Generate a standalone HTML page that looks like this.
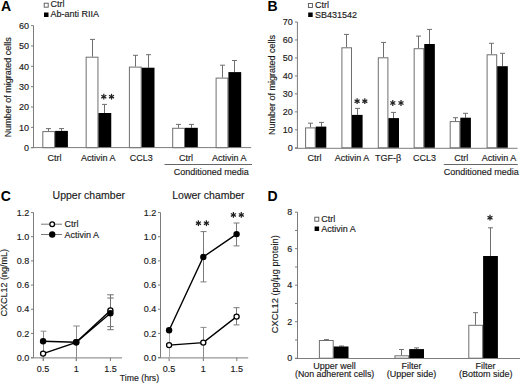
<!DOCTYPE html>
<html><head><meta charset="utf-8"><style>
html,body{margin:0;padding:0;background:#fff;}
body{width:520px;height:384px;overflow:hidden;}
svg{display:block;font-family:"Liberation Sans",sans-serif;}
</style></head><body>
<svg width="520" height="384" viewBox="0 0 520 384">
<rect width="520" height="384" fill="#fff"/>
<text x="1" y="10.8" font-size="14" text-anchor="start" font-weight="bold" fill="#000" >A</text>
<rect x="44.2" y="3.2" width="4" height="4" fill="#fff" stroke="#555" stroke-width="0.9"/>
<text x="50.6" y="7.2" font-size="9" text-anchor="start" font-weight="normal" fill="#1a1a1a" stroke="#1a1a1a" stroke-width="0.15" >Ctrl</text>
<rect x="44" y="12.5" width="4.5" height="4.5" fill="#000"/>
<text x="50.6" y="17.2" font-size="9" text-anchor="start" font-weight="normal" fill="#1a1a1a" stroke="#1a1a1a" stroke-width="0.15" >Ab-anti RIIA</text>
<line x1="33.5" y1="25.6" x2="33.5" y2="148.1" stroke="#7c7c7c" stroke-width="1"/>
<line x1="31.0" y1="147.7" x2="33.5" y2="147.7" stroke="#7c7c7c" stroke-width="1"/>
<text x="28.9" y="150.9" font-size="9" text-anchor="end" font-weight="normal" fill="#1a1a1a" stroke="#1a1a1a" stroke-width="0.15" >0</text>
<line x1="31.0" y1="127.35" x2="33.5" y2="127.35" stroke="#7c7c7c" stroke-width="1"/>
<text x="28.9" y="130.55" font-size="9" text-anchor="end" font-weight="normal" fill="#1a1a1a" stroke="#1a1a1a" stroke-width="0.15" >10</text>
<line x1="31.0" y1="107" x2="33.5" y2="107" stroke="#7c7c7c" stroke-width="1"/>
<text x="28.9" y="110.2" font-size="9" text-anchor="end" font-weight="normal" fill="#1a1a1a" stroke="#1a1a1a" stroke-width="0.15" >20</text>
<line x1="31.0" y1="86.65" x2="33.5" y2="86.65" stroke="#7c7c7c" stroke-width="1"/>
<text x="28.9" y="89.85" font-size="9" text-anchor="end" font-weight="normal" fill="#1a1a1a" stroke="#1a1a1a" stroke-width="0.15" >30</text>
<line x1="31.0" y1="66.3" x2="33.5" y2="66.3" stroke="#7c7c7c" stroke-width="1"/>
<text x="28.9" y="69.5" font-size="9" text-anchor="end" font-weight="normal" fill="#1a1a1a" stroke="#1a1a1a" stroke-width="0.15" >40</text>
<line x1="31.0" y1="45.95" x2="33.5" y2="45.95" stroke="#7c7c7c" stroke-width="1"/>
<text x="28.9" y="49.15" font-size="9" text-anchor="end" font-weight="normal" fill="#1a1a1a" stroke="#1a1a1a" stroke-width="0.15" >50</text>
<line x1="31.0" y1="25.6" x2="33.5" y2="25.6" stroke="#7c7c7c" stroke-width="1"/>
<text x="28.9" y="28.8" font-size="9" text-anchor="end" font-weight="normal" fill="#1a1a1a" stroke="#1a1a1a" stroke-width="0.15" >60</text>
<text x="0" y="0" font-size="9" text-anchor="middle" font-weight="normal" fill="#1a1a1a" stroke="#1a1a1a" stroke-width="0.15" transform="translate(10.8,87.2) rotate(-90)">Number of migrated cells</text>
<line x1="48.5" y1="128.6" x2="48.5" y2="131.1" stroke="#6e6e6e" stroke-width="1"/>
<line x1="46.0" y1="128.6" x2="51.0" y2="128.6" stroke="#6e6e6e" stroke-width="1"/>
<line x1="61.5" y1="128.6" x2="61.5" y2="130.9" stroke="#6e6e6e" stroke-width="1"/>
<line x1="59.0" y1="128.6" x2="64.0" y2="128.6" stroke="#6e6e6e" stroke-width="1"/>
<rect x="42.8" y="131.6" width="11.8" height="16.1" fill="#fff" stroke="#6f6f6f" stroke-width="1"/>
<rect x="55.1" y="130.9" width="12.8" height="16.8" fill="#000"/>
<line x1="92.5" y1="39.4" x2="92.5" y2="56.7" stroke="#6e6e6e" stroke-width="1"/>
<line x1="90.0" y1="39.4" x2="95.0" y2="39.4" stroke="#6e6e6e" stroke-width="1"/>
<line x1="104.5" y1="104.4" x2="104.5" y2="113.0" stroke="#6e6e6e" stroke-width="1"/>
<line x1="102.0" y1="104.4" x2="107.0" y2="104.4" stroke="#6e6e6e" stroke-width="1"/>
<rect x="86.15" y="57.2" width="11.8" height="90.5" fill="#fff" stroke="#6f6f6f" stroke-width="1"/>
<rect x="98.45" y="113.0" width="12.8" height="34.7" fill="#000"/>
<line x1="135.5" y1="55.3" x2="135.5" y2="66.6" stroke="#6e6e6e" stroke-width="1"/>
<line x1="133.0" y1="55.3" x2="138.0" y2="55.3" stroke="#6e6e6e" stroke-width="1"/>
<line x1="148.5" y1="54.7" x2="148.5" y2="67.7" stroke="#6e6e6e" stroke-width="1"/>
<line x1="146.0" y1="54.7" x2="151.0" y2="54.7" stroke="#6e6e6e" stroke-width="1"/>
<rect x="129.4" y="67.1" width="11.8" height="80.6" fill="#fff" stroke="#6f6f6f" stroke-width="1"/>
<rect x="141.7" y="67.7" width="12.8" height="80" fill="#000"/>
<line x1="178.5" y1="124.4" x2="178.5" y2="127.8" stroke="#6e6e6e" stroke-width="1"/>
<line x1="176.0" y1="124.4" x2="181.0" y2="124.4" stroke="#6e6e6e" stroke-width="1"/>
<line x1="191.5" y1="124.4" x2="191.5" y2="127.8" stroke="#6e6e6e" stroke-width="1"/>
<line x1="189.0" y1="124.4" x2="194.0" y2="124.4" stroke="#6e6e6e" stroke-width="1"/>
<rect x="172.7" y="128.3" width="11.8" height="19.4" fill="#fff" stroke="#6f6f6f" stroke-width="1"/>
<rect x="185.0" y="127.8" width="12.8" height="19.9" fill="#000"/>
<line x1="222.5" y1="65.2" x2="222.5" y2="77.6" stroke="#6e6e6e" stroke-width="1"/>
<line x1="220.0" y1="65.2" x2="225.0" y2="65.2" stroke="#6e6e6e" stroke-width="1"/>
<line x1="234.5" y1="60.5" x2="234.5" y2="72.1" stroke="#6e6e6e" stroke-width="1"/>
<line x1="232.0" y1="60.5" x2="237.0" y2="60.5" stroke="#6e6e6e" stroke-width="1"/>
<rect x="216.1" y="78.1" width="11.8" height="69.6" fill="#fff" stroke="#6f6f6f" stroke-width="1"/>
<rect x="228.4" y="72.1" width="12.8" height="75.6" fill="#000"/>
<line x1="31.0" y1="147.6" x2="251.2" y2="147.6" stroke="#7c7c7c" stroke-width="1"/>
<line x1="103.8" y1="93.8" x2="103.8" y2="99.6" stroke="#222" stroke-width="1.25"/>
<line x1="101.29" y1="95.25" x2="106.31" y2="98.15" stroke="#222" stroke-width="1.25"/>
<line x1="106.31" y1="95.25" x2="101.29" y2="98.15" stroke="#222" stroke-width="1.25"/>
<line x1="111.5" y1="93.8" x2="111.5" y2="99.6" stroke="#222" stroke-width="1.25"/>
<line x1="108.99" y1="95.25" x2="114.01" y2="98.15" stroke="#222" stroke-width="1.25"/>
<line x1="114.01" y1="95.25" x2="108.99" y2="98.15" stroke="#222" stroke-width="1.25"/>
<text x="54.5" y="161.2" font-size="9" text-anchor="middle" font-weight="normal" fill="#1a1a1a" stroke="#1a1a1a" stroke-width="0.15" >Ctrl</text>
<text x="98.3" y="161.2" font-size="9" text-anchor="middle" font-weight="normal" fill="#1a1a1a" stroke="#1a1a1a" stroke-width="0.15" >Activin A</text>
<text x="141.2" y="161.2" font-size="9" text-anchor="middle" font-weight="normal" fill="#1a1a1a" stroke="#1a1a1a" stroke-width="0.15" >CCL3</text>
<text x="186" y="161.2" font-size="9" text-anchor="middle" font-weight="normal" fill="#1a1a1a" stroke="#1a1a1a" stroke-width="0.15" >Ctrl</text>
<text x="229.3" y="161.2" font-size="9" text-anchor="middle" font-weight="normal" fill="#1a1a1a" stroke="#1a1a1a" stroke-width="0.15" >Activin A</text>
<line x1="164.5" y1="164.5" x2="252" y2="164.5" stroke="#666" stroke-width="1"/>
<text x="211.2" y="174.5" font-size="9" text-anchor="middle" font-weight="normal" fill="#1a1a1a" stroke="#1a1a1a" stroke-width="0.15" >Conditioned media</text>
<text x="267.5" y="10.8" font-size="14" text-anchor="start" font-weight="bold" fill="#000" >B</text>
<rect x="308.4" y="3.5" width="4" height="4" fill="#fff" stroke="#555" stroke-width="0.9"/>
<text x="315" y="7.6" font-size="9" text-anchor="start" font-weight="normal" fill="#1a1a1a" stroke="#1a1a1a" stroke-width="0.15" >Ctrl</text>
<rect x="308.2" y="12.5" width="4.5" height="4.5" fill="#000"/>
<text x="315" y="17.6" font-size="9" text-anchor="start" font-weight="normal" fill="#1a1a1a" stroke="#1a1a1a" stroke-width="0.15" >SB431542</text>
<line x1="297.4" y1="22.01" x2="297.4" y2="148.4" stroke="#7c7c7c" stroke-width="1"/>
<line x1="294.9" y1="147.8" x2="297.4" y2="147.8" stroke="#7c7c7c" stroke-width="1"/>
<text x="292.7" y="151.0" font-size="9" text-anchor="end" font-weight="normal" fill="#1a1a1a" stroke="#1a1a1a" stroke-width="0.15" >0</text>
<line x1="294.9" y1="129.83" x2="297.4" y2="129.83" stroke="#7c7c7c" stroke-width="1"/>
<text x="292.7" y="133.03" font-size="9" text-anchor="end" font-weight="normal" fill="#1a1a1a" stroke="#1a1a1a" stroke-width="0.15" >10</text>
<line x1="294.9" y1="111.86" x2="297.4" y2="111.86" stroke="#7c7c7c" stroke-width="1"/>
<text x="292.7" y="115.06" font-size="9" text-anchor="end" font-weight="normal" fill="#1a1a1a" stroke="#1a1a1a" stroke-width="0.15" >20</text>
<line x1="294.9" y1="93.89" x2="297.4" y2="93.89" stroke="#7c7c7c" stroke-width="1"/>
<text x="292.7" y="97.09" font-size="9" text-anchor="end" font-weight="normal" fill="#1a1a1a" stroke="#1a1a1a" stroke-width="0.15" >30</text>
<line x1="294.9" y1="75.92" x2="297.4" y2="75.92" stroke="#7c7c7c" stroke-width="1"/>
<text x="292.7" y="79.12" font-size="9" text-anchor="end" font-weight="normal" fill="#1a1a1a" stroke="#1a1a1a" stroke-width="0.15" >40</text>
<line x1="294.9" y1="57.95" x2="297.4" y2="57.95" stroke="#7c7c7c" stroke-width="1"/>
<text x="292.7" y="61.15" font-size="9" text-anchor="end" font-weight="normal" fill="#1a1a1a" stroke="#1a1a1a" stroke-width="0.15" >50</text>
<line x1="294.9" y1="39.98" x2="297.4" y2="39.98" stroke="#7c7c7c" stroke-width="1"/>
<text x="292.7" y="43.18" font-size="9" text-anchor="end" font-weight="normal" fill="#1a1a1a" stroke="#1a1a1a" stroke-width="0.15" >60</text>
<line x1="294.9" y1="22.01" x2="297.4" y2="22.01" stroke="#7c7c7c" stroke-width="1"/>
<text x="292.7" y="25.21" font-size="9" text-anchor="end" font-weight="normal" fill="#1a1a1a" stroke="#1a1a1a" stroke-width="0.15" >70</text>
<text x="0" y="0" font-size="9" text-anchor="middle" font-weight="normal" fill="#1a1a1a" stroke="#1a1a1a" stroke-width="0.15" transform="translate(274.6,84.9) rotate(-90)">Number of migrated cells</text>
<line x1="310.5" y1="123.2" x2="310.5" y2="127.4" stroke="#6e6e6e" stroke-width="1"/>
<line x1="308.0" y1="123.2" x2="313.0" y2="123.2" stroke="#6e6e6e" stroke-width="1"/>
<line x1="321.5" y1="122.4" x2="321.5" y2="126.6" stroke="#6e6e6e" stroke-width="1"/>
<line x1="319.0" y1="122.4" x2="324.0" y2="122.4" stroke="#6e6e6e" stroke-width="1"/>
<rect x="305.6" y="127.9" width="9.6" height="19.9" fill="#fff" stroke="#6f6f6f" stroke-width="1"/>
<rect x="315.7" y="126.6" width="10.6" height="21.2" fill="#000"/>
<line x1="346.5" y1="34.4" x2="346.5" y2="47.3" stroke="#6e6e6e" stroke-width="1"/>
<line x1="344.0" y1="34.4" x2="349.0" y2="34.4" stroke="#6e6e6e" stroke-width="1"/>
<line x1="357.5" y1="108.4" x2="357.5" y2="114.9" stroke="#6e6e6e" stroke-width="1"/>
<line x1="355.0" y1="108.4" x2="360.0" y2="108.4" stroke="#6e6e6e" stroke-width="1"/>
<rect x="341.9" y="47.8" width="9.6" height="100" fill="#fff" stroke="#6f6f6f" stroke-width="1"/>
<rect x="352.0" y="114.9" width="10.6" height="32.9" fill="#000"/>
<line x1="383.5" y1="42.4" x2="383.5" y2="57.3" stroke="#6e6e6e" stroke-width="1"/>
<line x1="381.0" y1="42.4" x2="386.0" y2="42.4" stroke="#6e6e6e" stroke-width="1"/>
<line x1="393.5" y1="112.4" x2="393.5" y2="118.1" stroke="#6e6e6e" stroke-width="1"/>
<line x1="391.0" y1="112.4" x2="396.0" y2="112.4" stroke="#6e6e6e" stroke-width="1"/>
<rect x="378.3" y="57.8" width="9.6" height="90" fill="#fff" stroke="#6f6f6f" stroke-width="1"/>
<rect x="388.4" y="118.1" width="10.6" height="29.7" fill="#000"/>
<line x1="418.5" y1="36.1" x2="418.5" y2="48.2" stroke="#6e6e6e" stroke-width="1"/>
<line x1="416.0" y1="36.1" x2="421.0" y2="36.1" stroke="#6e6e6e" stroke-width="1"/>
<line x1="429.5" y1="29.4" x2="429.5" y2="44.0" stroke="#6e6e6e" stroke-width="1"/>
<line x1="427.0" y1="29.4" x2="432.0" y2="29.4" stroke="#6e6e6e" stroke-width="1"/>
<rect x="414.15" y="48.7" width="9.6" height="99.1" fill="#fff" stroke="#6f6f6f" stroke-width="1"/>
<rect x="424.25" y="44.0" width="10.6" height="103.8" fill="#000"/>
<line x1="455.5" y1="117.7" x2="455.5" y2="121.1" stroke="#6e6e6e" stroke-width="1"/>
<line x1="453.0" y1="117.7" x2="458.0" y2="117.7" stroke="#6e6e6e" stroke-width="1"/>
<line x1="465.5" y1="113.3" x2="465.5" y2="117.7" stroke="#6e6e6e" stroke-width="1"/>
<line x1="463.0" y1="113.3" x2="468.0" y2="113.3" stroke="#6e6e6e" stroke-width="1"/>
<rect x="450.2" y="121.6" width="9.6" height="26.2" fill="#fff" stroke="#6f6f6f" stroke-width="1"/>
<rect x="460.3" y="117.7" width="10.6" height="30.1" fill="#000"/>
<line x1="491.5" y1="43.3" x2="491.5" y2="54.3" stroke="#6e6e6e" stroke-width="1"/>
<line x1="489.0" y1="43.3" x2="494.0" y2="43.3" stroke="#6e6e6e" stroke-width="1"/>
<line x1="502.5" y1="53.3" x2="502.5" y2="66.2" stroke="#6e6e6e" stroke-width="1"/>
<line x1="500.0" y1="53.3" x2="505.0" y2="53.3" stroke="#6e6e6e" stroke-width="1"/>
<rect x="487.1" y="54.8" width="9.6" height="93" fill="#fff" stroke="#6f6f6f" stroke-width="1"/>
<rect x="497.2" y="66.2" width="10.6" height="81.6" fill="#000"/>
<line x1="294.9" y1="148.3" x2="517.5" y2="148.3" stroke="#7c7c7c" stroke-width="1"/>
<line x1="357.1" y1="98.3" x2="357.1" y2="104.1" stroke="#222" stroke-width="1.25"/>
<line x1="354.59" y1="99.75" x2="359.61" y2="102.65" stroke="#222" stroke-width="1.25"/>
<line x1="359.61" y1="99.75" x2="354.59" y2="102.65" stroke="#222" stroke-width="1.25"/>
<line x1="364.8" y1="98.3" x2="364.8" y2="104.1" stroke="#222" stroke-width="1.25"/>
<line x1="362.29" y1="99.75" x2="367.31" y2="102.65" stroke="#222" stroke-width="1.25"/>
<line x1="367.31" y1="99.75" x2="362.29" y2="102.65" stroke="#222" stroke-width="1.25"/>
<line x1="392.8" y1="100.1" x2="392.8" y2="105.9" stroke="#222" stroke-width="1.25"/>
<line x1="390.29" y1="101.55" x2="395.31" y2="104.45" stroke="#222" stroke-width="1.25"/>
<line x1="395.31" y1="101.55" x2="390.29" y2="104.45" stroke="#222" stroke-width="1.25"/>
<line x1="401.0" y1="100.1" x2="401.0" y2="105.9" stroke="#222" stroke-width="1.25"/>
<line x1="398.49" y1="101.55" x2="403.51" y2="104.45" stroke="#222" stroke-width="1.25"/>
<line x1="403.51" y1="101.55" x2="398.49" y2="104.45" stroke="#222" stroke-width="1.25"/>
<text x="314.6" y="161.4" font-size="9" text-anchor="middle" font-weight="normal" fill="#1a1a1a" stroke="#1a1a1a" stroke-width="0.15" >Ctrl</text>
<text x="351.9" y="161.4" font-size="9" text-anchor="middle" font-weight="normal" fill="#1a1a1a" stroke="#1a1a1a" stroke-width="0.15" >Activin A</text>
<text x="388.2" y="161.4" font-size="9" text-anchor="middle" font-weight="normal" fill="#1a1a1a" stroke="#1a1a1a" stroke-width="0.15" >TGF-β</text>
<text x="424.4" y="161.4" font-size="9" text-anchor="middle" font-weight="normal" fill="#1a1a1a" stroke="#1a1a1a" stroke-width="0.15" >CCL3</text>
<text x="461.2" y="161.4" font-size="9" text-anchor="middle" font-weight="normal" fill="#1a1a1a" stroke="#1a1a1a" stroke-width="0.15" >Ctrl</text>
<text x="499" y="161.4" font-size="9" text-anchor="middle" font-weight="normal" fill="#1a1a1a" stroke="#1a1a1a" stroke-width="0.15" >Activin A</text>
<line x1="443.8" y1="164.5" x2="517.8" y2="164.5" stroke="#666" stroke-width="1"/>
<text x="481.3" y="175" font-size="9" text-anchor="middle" font-weight="normal" fill="#1a1a1a" stroke="#1a1a1a" stroke-width="0.15" >Conditioned media</text>
<text x="0.8" y="201" font-size="14" text-anchor="start" font-weight="bold" fill="#000" >C</text>
<text x="88.8" y="199.2" font-size="10.5" text-anchor="middle" font-weight="normal" fill="#1a1a1a" stroke="#1a1a1a" stroke-width="0.15" >Upper chamber</text>
<text x="208.4" y="199.2" font-size="10.5" text-anchor="middle" font-weight="normal" fill="#1a1a1a" stroke="#1a1a1a" stroke-width="0.15" >Lower chamber</text>
<text x="0" y="0" font-size="9" text-anchor="middle" font-weight="normal" fill="#1a1a1a" stroke="#1a1a1a" stroke-width="0.15" transform="translate(7.4,282.8) rotate(-90)">CXCL12 (ng/mL)</text>
<line x1="33.5" y1="212.52" x2="33.5" y2="357.6" stroke="#7c7c7c" stroke-width="1"/>
<line x1="31.0" y1="357.6" x2="33.5" y2="357.6" stroke="#7c7c7c" stroke-width="1"/>
<text x="29.3" y="360.8" font-size="9" text-anchor="end" font-weight="normal" fill="#1a1a1a" stroke="#1a1a1a" stroke-width="0.15" >0.0</text>
<line x1="31.0" y1="333.42" x2="33.5" y2="333.42" stroke="#7c7c7c" stroke-width="1"/>
<text x="29.3" y="336.62" font-size="9" text-anchor="end" font-weight="normal" fill="#1a1a1a" stroke="#1a1a1a" stroke-width="0.15" >0.2</text>
<line x1="31.0" y1="309.24" x2="33.5" y2="309.24" stroke="#7c7c7c" stroke-width="1"/>
<text x="29.3" y="312.44" font-size="9" text-anchor="end" font-weight="normal" fill="#1a1a1a" stroke="#1a1a1a" stroke-width="0.15" >0.4</text>
<line x1="31.0" y1="285.06" x2="33.5" y2="285.06" stroke="#7c7c7c" stroke-width="1"/>
<text x="29.3" y="288.26" font-size="9" text-anchor="end" font-weight="normal" fill="#1a1a1a" stroke="#1a1a1a" stroke-width="0.15" >0.6</text>
<line x1="31.0" y1="260.88" x2="33.5" y2="260.88" stroke="#7c7c7c" stroke-width="1"/>
<text x="29.3" y="264.08" font-size="9" text-anchor="end" font-weight="normal" fill="#1a1a1a" stroke="#1a1a1a" stroke-width="0.15" >0.8</text>
<line x1="31.0" y1="236.7" x2="33.5" y2="236.7" stroke="#7c7c7c" stroke-width="1"/>
<text x="29.3" y="239.9" font-size="9" text-anchor="end" font-weight="normal" fill="#1a1a1a" stroke="#1a1a1a" stroke-width="0.15" >1.0</text>
<line x1="31.0" y1="212.52" x2="33.5" y2="212.52" stroke="#7c7c7c" stroke-width="1"/>
<text x="29.3" y="215.72" font-size="9" text-anchor="end" font-weight="normal" fill="#1a1a1a" stroke="#1a1a1a" stroke-width="0.15" >1.2</text>
<line x1="31.0" y1="357.9" x2="122" y2="357.9" stroke="#7c7c7c" stroke-width="1"/>
<line x1="43.1" y1="357.6" x2="43.1" y2="361.1" stroke="#7c7c7c" stroke-width="1"/>
<text x="43.1" y="372.3" font-size="9" text-anchor="middle" font-weight="normal" fill="#1a1a1a" stroke="#1a1a1a" stroke-width="0.15" >0.5</text>
<line x1="76.2" y1="357.6" x2="76.2" y2="361.1" stroke="#7c7c7c" stroke-width="1"/>
<text x="76.2" y="372.3" font-size="9" text-anchor="middle" font-weight="normal" fill="#1a1a1a" stroke="#1a1a1a" stroke-width="0.15" >1</text>
<line x1="110.4" y1="357.6" x2="110.4" y2="361.1" stroke="#7c7c7c" stroke-width="1"/>
<text x="110.4" y="372.3" font-size="9" text-anchor="middle" font-weight="normal" fill="#1a1a1a" stroke="#1a1a1a" stroke-width="0.15" >1.5</text>
<line x1="160.5" y1="212.52" x2="160.5" y2="357.6" stroke="#7c7c7c" stroke-width="1"/>
<line x1="158.0" y1="357.6" x2="160.5" y2="357.6" stroke="#7c7c7c" stroke-width="1"/>
<text x="156.3" y="360.8" font-size="9" text-anchor="end" font-weight="normal" fill="#1a1a1a" stroke="#1a1a1a" stroke-width="0.15" >0.0</text>
<line x1="158.0" y1="333.42" x2="160.5" y2="333.42" stroke="#7c7c7c" stroke-width="1"/>
<text x="156.3" y="336.62" font-size="9" text-anchor="end" font-weight="normal" fill="#1a1a1a" stroke="#1a1a1a" stroke-width="0.15" >0.2</text>
<line x1="158.0" y1="309.24" x2="160.5" y2="309.24" stroke="#7c7c7c" stroke-width="1"/>
<text x="156.3" y="312.44" font-size="9" text-anchor="end" font-weight="normal" fill="#1a1a1a" stroke="#1a1a1a" stroke-width="0.15" >0.4</text>
<line x1="158.0" y1="285.06" x2="160.5" y2="285.06" stroke="#7c7c7c" stroke-width="1"/>
<text x="156.3" y="288.26" font-size="9" text-anchor="end" font-weight="normal" fill="#1a1a1a" stroke="#1a1a1a" stroke-width="0.15" >0.6</text>
<line x1="158.0" y1="260.88" x2="160.5" y2="260.88" stroke="#7c7c7c" stroke-width="1"/>
<text x="156.3" y="264.08" font-size="9" text-anchor="end" font-weight="normal" fill="#1a1a1a" stroke="#1a1a1a" stroke-width="0.15" >0.8</text>
<line x1="158.0" y1="236.7" x2="160.5" y2="236.7" stroke="#7c7c7c" stroke-width="1"/>
<text x="156.3" y="239.9" font-size="9" text-anchor="end" font-weight="normal" fill="#1a1a1a" stroke="#1a1a1a" stroke-width="0.15" >1.0</text>
<line x1="158.0" y1="212.52" x2="160.5" y2="212.52" stroke="#7c7c7c" stroke-width="1"/>
<text x="156.3" y="215.72" font-size="9" text-anchor="end" font-weight="normal" fill="#1a1a1a" stroke="#1a1a1a" stroke-width="0.15" >1.2</text>
<line x1="158.0" y1="357.9" x2="248.2" y2="357.9" stroke="#7c7c7c" stroke-width="1"/>
<line x1="169.1" y1="357.6" x2="169.1" y2="361.1" stroke="#7c7c7c" stroke-width="1"/>
<text x="169.1" y="372.3" font-size="9" text-anchor="middle" font-weight="normal" fill="#1a1a1a" stroke="#1a1a1a" stroke-width="0.15" >0.5</text>
<line x1="203.3" y1="357.6" x2="203.3" y2="361.1" stroke="#7c7c7c" stroke-width="1"/>
<text x="203.3" y="372.3" font-size="9" text-anchor="middle" font-weight="normal" fill="#1a1a1a" stroke="#1a1a1a" stroke-width="0.15" >1</text>
<line x1="236.8" y1="357.6" x2="236.8" y2="361.1" stroke="#7c7c7c" stroke-width="1"/>
<text x="236.8" y="372.3" font-size="9" text-anchor="middle" font-weight="normal" fill="#1a1a1a" stroke="#1a1a1a" stroke-width="0.15" >1.5</text>
<line x1="41" y1="224.2" x2="62" y2="224.2" stroke="#777" stroke-width="1"/>
<circle cx="52.2" cy="224.2" r="2.35" fill="#fff" stroke="#000" stroke-width="1.3"/>
<line x1="41" y1="234.5" x2="62" y2="234.5" stroke="#777" stroke-width="1"/>
<circle cx="52.2" cy="234.5" r="3.2" fill="#000"/>
<text x="64.6" y="227.2" font-size="9" text-anchor="start" font-weight="normal" fill="#1a1a1a" stroke="#1a1a1a" stroke-width="0.15" >Ctrl</text>
<text x="64.6" y="237.6" font-size="9" text-anchor="start" font-weight="normal" fill="#1a1a1a" stroke="#1a1a1a" stroke-width="0.15" >Activin A</text>
<line x1="43.5" y1="331.2" x2="43.5" y2="361" stroke="#8a8a8a" stroke-width="1"/>
<line x1="40.6" y1="331.2" x2="46.4" y2="331.2" stroke="#8a8a8a" stroke-width="1"/>
<line x1="76.5" y1="326.0" x2="76.5" y2="361" stroke="#8a8a8a" stroke-width="1"/>
<line x1="73.2" y1="326.0" x2="79.8" y2="326.0" stroke="#8a8a8a" stroke-width="1"/>
<line x1="110.5" y1="294.8" x2="110.5" y2="326.6" stroke="#707070" stroke-width="1"/>
<line x1="107.25" y1="294.8" x2="113.75" y2="294.8" stroke="#707070" stroke-width="1"/>
<line x1="107.25" y1="326.6" x2="113.75" y2="326.6" stroke="#707070" stroke-width="1"/>
<line x1="110.5" y1="298.0" x2="110.5" y2="329.7" stroke="#707070" stroke-width="1"/>
<line x1="107.25" y1="298.0" x2="113.75" y2="298.0" stroke="#707070" stroke-width="1"/>
<line x1="107.25" y1="329.7" x2="113.75" y2="329.7" stroke="#707070" stroke-width="1"/>
<polyline points="43.1,341.3 76.2,342.3 110.4,313.3" fill="none" stroke="#000" stroke-width="1.4"/>
<polyline points="43.1,353.6 76.2,342.3 110.4,310.5" fill="none" stroke="#000" stroke-width="1.4"/>
<circle cx="43.1" cy="353.6" r="2.55" fill="#fff" stroke="#000" stroke-width="1.3"/>
<circle cx="76.2" cy="342.3" r="2.55" fill="#fff" stroke="#000" stroke-width="1.3"/>
<circle cx="110.4" cy="310.5" r="2.55" fill="#fff" stroke="#000" stroke-width="1.3"/>
<circle cx="43.1" cy="341.3" r="3.2" fill="#000"/>
<circle cx="76.2" cy="342.3" r="3.2" fill="#000"/>
<circle cx="110.4" cy="313.3" r="3.2" fill="#000"/>
<line x1="169.5" y1="330" x2="169.5" y2="361" stroke="#aaaaaa" stroke-width="1"/>
<line x1="203.5" y1="327.4" x2="203.5" y2="361" stroke="#8a8a8a" stroke-width="1"/>
<line x1="200.5" y1="327.4" x2="206.5" y2="327.4" stroke="#8a8a8a" stroke-width="1"/>
<line x1="203.5" y1="231.6" x2="203.5" y2="281.9" stroke="#7a7a7a" stroke-width="1"/>
<line x1="200.5" y1="231.6" x2="206.5" y2="231.6" stroke="#7a7a7a" stroke-width="1"/>
<line x1="200.5" y1="281.9" x2="206.5" y2="281.9" stroke="#7a7a7a" stroke-width="1"/>
<line x1="236.5" y1="223.0" x2="236.5" y2="245.9" stroke="#7a7a7a" stroke-width="1"/>
<line x1="233.5" y1="223.0" x2="239.5" y2="223.0" stroke="#7a7a7a" stroke-width="1"/>
<line x1="233.5" y1="245.9" x2="239.5" y2="245.9" stroke="#7a7a7a" stroke-width="1"/>
<line x1="236.5" y1="307.7" x2="236.5" y2="324.9" stroke="#7a7a7a" stroke-width="1"/>
<line x1="233.5" y1="307.7" x2="239.5" y2="307.7" stroke="#7a7a7a" stroke-width="1"/>
<line x1="233.5" y1="324.9" x2="239.5" y2="324.9" stroke="#7a7a7a" stroke-width="1"/>
<polyline points="169.1,330.2 203.3,256.9 236.6,234.1" fill="none" stroke="#000" stroke-width="1.4"/>
<polyline points="169.1,345.1 203.3,342.6 236.6,316.6" fill="none" stroke="#000" stroke-width="1.4"/>
<circle cx="169.1" cy="330.2" r="3.2" fill="#000"/>
<circle cx="203.3" cy="256.9" r="3.2" fill="#000"/>
<circle cx="236.6" cy="234.1" r="3.2" fill="#000"/>
<circle cx="169.1" cy="345.1" r="2.55" fill="#fff" stroke="#000" stroke-width="1.3"/>
<circle cx="203.3" cy="342.6" r="2.55" fill="#fff" stroke="#000" stroke-width="1.3"/>
<circle cx="236.6" cy="316.6" r="2.55" fill="#fff" stroke="#000" stroke-width="1.3"/>
<line x1="198.4" y1="220.3" x2="198.4" y2="226.1" stroke="#222" stroke-width="1.25"/>
<line x1="195.89" y1="221.75" x2="200.91" y2="224.65" stroke="#222" stroke-width="1.25"/>
<line x1="200.91" y1="221.75" x2="195.89" y2="224.65" stroke="#222" stroke-width="1.25"/>
<line x1="206.4" y1="220.3" x2="206.4" y2="226.1" stroke="#222" stroke-width="1.25"/>
<line x1="203.89" y1="221.75" x2="208.91" y2="224.65" stroke="#222" stroke-width="1.25"/>
<line x1="208.91" y1="221.75" x2="203.89" y2="224.65" stroke="#222" stroke-width="1.25"/>
<line x1="233.4" y1="212.0" x2="233.4" y2="217.8" stroke="#222" stroke-width="1.25"/>
<line x1="230.89" y1="213.45" x2="235.91" y2="216.35" stroke="#222" stroke-width="1.25"/>
<line x1="235.91" y1="213.45" x2="230.89" y2="216.35" stroke="#222" stroke-width="1.25"/>
<line x1="241.3" y1="212.0" x2="241.3" y2="217.8" stroke="#222" stroke-width="1.25"/>
<line x1="238.79" y1="213.45" x2="243.81" y2="216.35" stroke="#222" stroke-width="1.25"/>
<line x1="243.81" y1="213.45" x2="238.79" y2="216.35" stroke="#222" stroke-width="1.25"/>
<text x="139.5" y="381" font-size="8.7" text-anchor="middle" font-weight="normal" fill="#1a1a1a" stroke="#1a1a1a" stroke-width="0.15" >Time (hrs)</text>
<text x="267.6" y="201.2" font-size="14" text-anchor="start" font-weight="bold" fill="#000" >D</text>
<line x1="297.5" y1="212.2" x2="297.5" y2="358.2" stroke="#7c7c7c" stroke-width="1"/>
<line x1="295.0" y1="358.2" x2="297.5" y2="358.2" stroke="#7c7c7c" stroke-width="1"/>
<text x="292.2" y="361.4" font-size="9" text-anchor="end" font-weight="normal" fill="#1a1a1a" stroke="#1a1a1a" stroke-width="0.15" >0</text>
<line x1="295.0" y1="339.95" x2="297.5" y2="339.95" stroke="#7c7c7c" stroke-width="1"/>
<line x1="295.0" y1="321.7" x2="297.5" y2="321.7" stroke="#7c7c7c" stroke-width="1"/>
<text x="292.2" y="324.9" font-size="9" text-anchor="end" font-weight="normal" fill="#1a1a1a" stroke="#1a1a1a" stroke-width="0.15" >2</text>
<line x1="295.0" y1="303.45" x2="297.5" y2="303.45" stroke="#7c7c7c" stroke-width="1"/>
<line x1="295.0" y1="285.2" x2="297.5" y2="285.2" stroke="#7c7c7c" stroke-width="1"/>
<text x="292.2" y="288.4" font-size="9" text-anchor="end" font-weight="normal" fill="#1a1a1a" stroke="#1a1a1a" stroke-width="0.15" >4</text>
<line x1="295.0" y1="266.95" x2="297.5" y2="266.95" stroke="#7c7c7c" stroke-width="1"/>
<line x1="295.0" y1="248.7" x2="297.5" y2="248.7" stroke="#7c7c7c" stroke-width="1"/>
<text x="292.2" y="251.9" font-size="9" text-anchor="end" font-weight="normal" fill="#1a1a1a" stroke="#1a1a1a" stroke-width="0.15" >6</text>
<line x1="295.0" y1="230.45" x2="297.5" y2="230.45" stroke="#7c7c7c" stroke-width="1"/>
<line x1="295.0" y1="212.2" x2="297.5" y2="212.2" stroke="#7c7c7c" stroke-width="1"/>
<text x="292.2" y="215.4" font-size="9" text-anchor="end" font-weight="normal" fill="#1a1a1a" stroke="#1a1a1a" stroke-width="0.15" >8</text>
<text x="0" y="0" font-size="9.25" text-anchor="middle" font-weight="normal" fill="#1a1a1a" stroke="#1a1a1a" stroke-width="0.15" transform="translate(277.6,284.2) rotate(-90)">CXCL12 (pg/μg protein)</text>
<rect x="314.8" y="217.2" width="4" height="4" fill="#fff" stroke="#555" stroke-width="0.9"/>
<text x="321.3" y="222.3" font-size="9" text-anchor="start" font-weight="normal" fill="#1a1a1a" stroke="#1a1a1a" stroke-width="0.15" >Ctrl</text>
<rect x="314.6" y="226.5" width="4.5" height="4.5" fill="#000"/>
<text x="321.3" y="232" font-size="9" text-anchor="start" font-weight="normal" fill="#1a1a1a" stroke="#1a1a1a" stroke-width="0.15" >Activin A</text>
<line x1="326.5" y1="339.6" x2="326.5" y2="340.0" stroke="#6e6e6e" stroke-width="1"/>
<line x1="324.0" y1="339.6" x2="329.0" y2="339.6" stroke="#6e6e6e" stroke-width="1"/>
<line x1="341.5" y1="346.0" x2="341.5" y2="346.5" stroke="#6e6e6e" stroke-width="1"/>
<line x1="339.0" y1="346.0" x2="344.0" y2="346.0" stroke="#6e6e6e" stroke-width="1"/>
<rect x="319.4" y="340.5" width="13.8" height="17.7" fill="#fff" stroke="#6f6f6f" stroke-width="1"/>
<rect x="333.7" y="346.5" width="14.8" height="11.7" fill="#000"/>
<line x1="401.5" y1="349.5" x2="401.5" y2="355.3" stroke="#6e6e6e" stroke-width="1"/>
<line x1="399.0" y1="349.5" x2="404.0" y2="349.5" stroke="#6e6e6e" stroke-width="1"/>
<line x1="416.5" y1="347.9" x2="416.5" y2="349.1" stroke="#6e6e6e" stroke-width="1"/>
<line x1="414.0" y1="347.9" x2="419.0" y2="347.9" stroke="#6e6e6e" stroke-width="1"/>
<rect x="394.9" y="355.8" width="13.8" height="2.4" fill="#fff" stroke="#6f6f6f" stroke-width="1"/>
<rect x="409.2" y="349.1" width="14.8" height="9.1" fill="#000"/>
<line x1="475.5" y1="312.7" x2="475.5" y2="324.8" stroke="#6e6e6e" stroke-width="1"/>
<line x1="473.0" y1="312.7" x2="478.0" y2="312.7" stroke="#6e6e6e" stroke-width="1"/>
<line x1="490.5" y1="227.8" x2="490.5" y2="256.0" stroke="#6e6e6e" stroke-width="1"/>
<line x1="488.0" y1="227.8" x2="493.0" y2="227.8" stroke="#6e6e6e" stroke-width="1"/>
<rect x="468.8" y="325.3" width="13.8" height="32.9" fill="#fff" stroke="#6f6f6f" stroke-width="1"/>
<rect x="483.1" y="256.0" width="14.8" height="102.2" fill="#000"/>
<line x1="295.0" y1="358.5" x2="520" y2="358.5" stroke="#7c7c7c" stroke-width="1"/>
<line x1="490.0" y1="214.8" x2="490.0" y2="220.6" stroke="#222" stroke-width="1.25"/>
<line x1="487.49" y1="216.25" x2="492.51" y2="219.15" stroke="#222" stroke-width="1.25"/>
<line x1="492.51" y1="216.25" x2="487.49" y2="219.15" stroke="#222" stroke-width="1.25"/>
<text x="334.55" y="369.1" font-size="9" text-anchor="middle" font-weight="normal" fill="#1a1a1a" stroke="#1a1a1a" stroke-width="0.15" >Upper well</text>
<text x="334.7" y="376.5" font-size="8.8" text-anchor="middle" font-weight="normal" fill="#1a1a1a" stroke="#1a1a1a" stroke-width="0.15" >(Non adherent cells)</text>
<text x="411.4" y="369.1" font-size="9" text-anchor="middle" font-weight="normal" fill="#1a1a1a" stroke="#1a1a1a" stroke-width="0.15" >Filter</text>
<text x="411.45" y="376.7" font-size="9" text-anchor="middle" font-weight="normal" fill="#1a1a1a" stroke="#1a1a1a" stroke-width="0.15" >(Upper side)</text>
<text x="485.6" y="369.1" font-size="9" text-anchor="middle" font-weight="normal" fill="#1a1a1a" stroke="#1a1a1a" stroke-width="0.15" >Filter</text>
<text x="485.75" y="376.7" font-size="9" text-anchor="middle" font-weight="normal" fill="#1a1a1a" stroke="#1a1a1a" stroke-width="0.15" >(Bottom side)</text>
</svg>
</body></html>
